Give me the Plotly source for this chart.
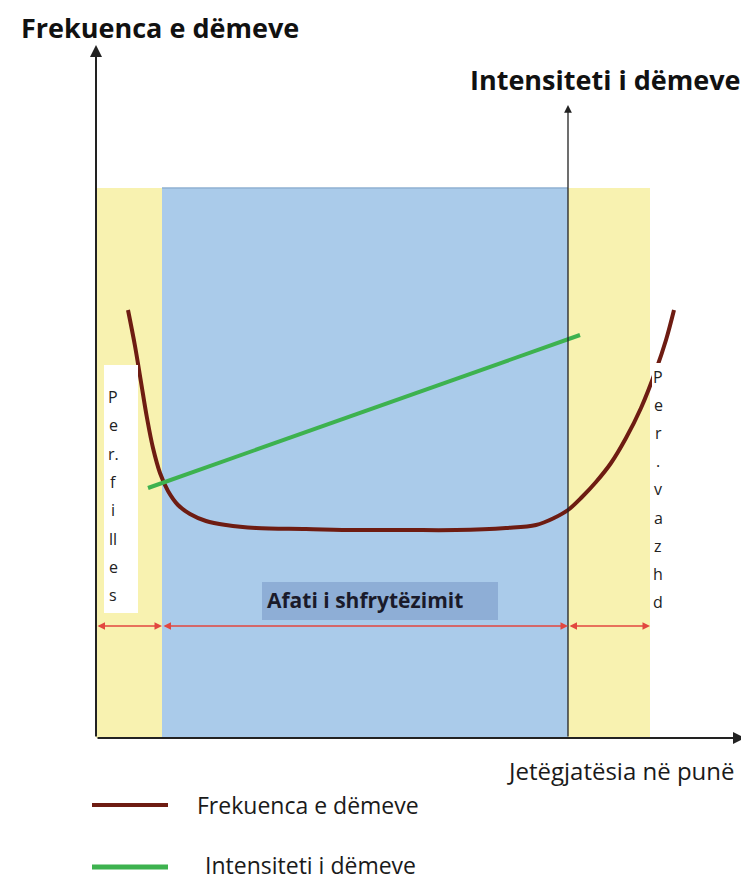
import plotly.graph_objects as go

# bathtub curve, values (x = operating time, y = height above axis)
time_pts = [32, 39, 45, 51, 57, 64, 72, 82, 94, 110, 130, 160, 210, 260, 310, 360, 410, 440, 458, 472,
            486, 500, 515, 530, 545, 560, 570, 578]
freq_pts = [428, 392, 356, 320, 290, 265, 247, 233, 224, 217, 213, 210, 209, 208, 208, 208, 210, 213, 220, 228,
            241, 256, 275, 300, 330, 368, 398, 428]

intens_time = [52, 484]
intens_vals = [250, 403]

# phases along the time axis
phase_edges = [0, 66, 472, 554]
phase_top = 550
phase_colors = ['#f8f2b0', '#aacbea', '#f8f2b0']

dim_level = 112
early_letters = ['P', 'e', 'r.', 'f', 'i', 'll', 'e', 's']
late_letters = ['P', 'e', 'r', '.', 'v', 'a', 'z', 'h', 'd']

BROWN = '#6e1c12'
GREEN = '#3db24f'
RED = '#e2473f'
FONT = 'Open Sans'

fig = go.Figure()

for i in range(3):
    fig.add_shape(type='rect', x0=phase_edges[i], x1=phase_edges[i + 1], y0=0, y1=phase_top,
                  fillcolor=phase_colors[i], line_width=0, layer='below')
fig.add_shape(type='line', x0=phase_edges[1], x1=phase_edges[2], y0=phase_top, y1=phase_top,
              line=dict(color='#8fb0d2', width=1.5), layer='below')

# white text boxes at the ends
fig.add_shape(type='rect', x0=8, x1=42, y0=125, y1=373, fillcolor='white', line_width=0)
fig.add_shape(type='rect', x0=556, x1=590, y0=126, y1=375, fillcolor='white', line_width=0)

fig.add_trace(go.Scatter(x=time_pts, y=freq_pts, mode='lines', line=dict(color=BROWN, width=4, shape='spline'),
                         name='Frekuenca e dëmeve', showlegend=False))
fig.add_trace(go.Scatter(x=intens_time, y=intens_vals, mode='lines', line=dict(color=GREEN, width=4),
                         name='Intensiteti i dëmeve', showlegend=False))

# right axis line
fig.add_annotation(x=phase_edges[2], y=633, ax=phase_edges[2], ay=0, xref='x', yref='y', axref='x', ayref='y',
                   text='', showarrow=True, arrowhead=2, arrowsize=1.2, arrowwidth=1.3, arrowcolor='#222')
# main axes
fig.add_annotation(x=0, y=693, ax=0, ay=0, xref='x', yref='y', axref='x', ayref='y',
                   text='', showarrow=True, arrowhead=2, arrowsize=1.2, arrowwidth=2, arrowcolor='#222')
fig.add_annotation(x=649, y=0, ax=0, ay=0, xref='x', yref='y', axref='x', ayref='y',
                   text='', showarrow=True, arrowhead=2, arrowsize=1.2, arrowwidth=2, arrowcolor='#222')

# dimension line
for i in range(3):
    fig.add_annotation(x=phase_edges[i + 1], y=dim_level, ax=phase_edges[i], ay=dim_level,
                       xref='x', yref='y', axref='x', ayref='y', text='', showarrow=True,
                       arrowhead=2, startarrowhead=2, arrowside='end+start', arrowsize=1, arrowwidth=1.5,
                       arrowcolor=RED)

# "Afati i shfrytëzimit" label
fig.add_shape(type='rect', x0=166, x1=402, y0=118, y1=156, fillcolor='#8eaed6', line_width=0)
fig.add_annotation(x=169, y=138, text='Afati i shfrytëzimit', showarrow=False, xanchor='left',
                   font=dict(family=FONT, size=21, color='#1a1a2a', weight='bold'))

for k, ch in enumerate(early_letters):
    fig.add_annotation(x=17, y=341 - k * 28.3, text=ch, showarrow=False,
                       font=dict(family=FONT, size=16, color='#222'))
for k, ch in enumerate(late_letters):
    fig.add_annotation(x=562, y=361 - k * 28.1, text=ch, showarrow=False,
                       font=dict(family=FONT, size=16, color='#222'))

# axis titles
title_font = dict(family=FONT, size=27, color='#111', weight='bold')
fig.add_annotation(x=-77, y=711, text='Frekuenca e dëmeve', showarrow=False, xanchor='left', font=title_font)
fig.add_annotation(x=372, y=659, text='Intensiteti i dëmeve', showarrow=False, xanchor='left', font=title_font)
fig.add_annotation(x=641, y=-32, text='Jetëgjatësia në punë', showarrow=False, xanchor='right',
                   font=dict(family=FONT, size=24, color='#1a1a1a'))

# legend drawn by hand
legend_font = dict(family=FONT, size=23, color='#1a1a1a')
fig.add_shape(type='line', x0=-4, x1=72, y0=-67, y1=-67, line=dict(color=BROWN, width=4))
fig.add_annotation(x=99, y=-67, text='Frekuenca e dëmeve', showarrow=False, xanchor='left', font=legend_font)
fig.add_shape(type='line', x0=-4, x1=72, y0=-129, y1=-129, line=dict(color=GREEN, width=5))
fig.add_annotation(x=107, y=-127, text='Intensiteti i dëmeve', showarrow=False, xanchor='left', font=legend_font)

fig.update_xaxes(range=[-88, 661], visible=False)
fig.update_yaxes(range=[-153, 730], visible=False)
fig.update_layout(width=749, height=883, margin=dict(l=0, r=0, t=0, b=0),
                  plot_bgcolor='white', paper_bgcolor='white', showlegend=False)

fig.write_html('out.html')
